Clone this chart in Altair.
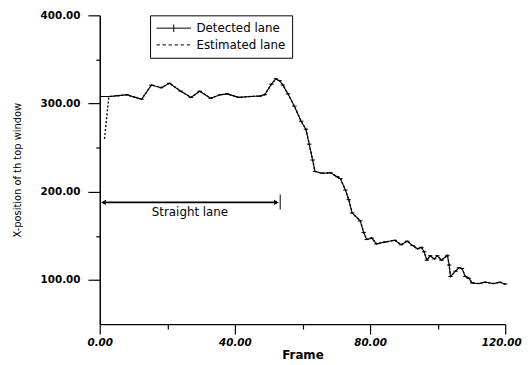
import altair as alt
import pandas as pd

# ---- data ----
det_frame = [0.7, 3, 5.5, 8, 10.5, 12.4, 15.3, 18.2, 20.6, 24, 27, 29.6, 32.8, 35.7,
             37.7, 41.1, 44.5, 47.4, 48.8, 50.8, 52.1, 53.2, 54.2, 55.7, 57.6, 59.6,
             61, 62, 63, 63.7, 65.9, 68.3, 70.3, 71.2, 72.7, 73.7, 74.7, 77.1, 78.1,
             79, 80.5, 81.9, 84.4, 87.3, 89.2, 91, 92.6, 94.1, 95.2, 96, 96.8, 97.8,
             99, 99.9, 101.1, 102.9, 103.4, 103.8, 105.3, 106.3, 107.2, 108.2, 109.2,
             110.2, 112.1, 114, 116.5, 118.4, 120]
det_value = [308, 308, 309, 310, 307, 305, 321, 318, 323, 314, 307, 314, 306, 310,
             311, 307, 308, 308.5, 310, 322, 328, 326, 321, 311, 297, 280,
             271, 254, 236, 223, 221, 221.5, 217, 215, 202, 191, 176, 167, 154,
             146, 147.5, 141, 143, 145, 140, 144, 139, 135.5, 137, 132, 122.5, 127.5,
             124, 127.5, 122.5, 128, 117, 104, 110, 114, 113, 104, 102,
             96.7, 96, 97.5, 96, 97.5, 95.5]
est_head_frame = [1.4, 2.7]
est_head_value = [260, 308]

series_names = ["Detected lane", "Estimated lane"]
arrow_frames = [1.1, 52.3]
arrow_value = [188, 188]
bar_frame = [53.4]
bar_low = [180]
bar_high = [197]
note_frame = [26.7]
note_value = [177]
note_text = ["Straight lane"]

x_ticks = [0, 20, 40, 60, 80, 100, 120]
y_ticks = [100, 150, 200, 250, 300, 350, 400]

# ---- tables ----
det_df = pd.DataFrame({"frame": det_frame, "value": det_value,
                       "series": series_names[0]})
est_df = pd.DataFrame({
    "frame": est_head_frame + [f for f in det_frame if f > 3],
    "value": est_head_value + [v for f, v in zip(det_frame, det_value) if f > 3],
})
arrow_df = pd.DataFrame({"frame": [arrow_frames[0]], "frame2": [arrow_frames[1]],
                         "value": [arrow_value[0]]})
arrow_l = pd.DataFrame({"frame": [arrow_frames[0]], "value": [arrow_value[0]]})
arrow_r = pd.DataFrame({"frame": [arrow_frames[1]], "value": [arrow_value[1]]})
bar_df = pd.DataFrame({"frame": bar_frame, "value": bar_low, "value2": bar_high})
note_df = pd.DataFrame({"frame": note_frame, "value": note_value, "text": note_text})

FONT = "DejaVu Sans"

x_axis = alt.Axis(
    values=x_ticks,
    labelExpr="datum.value % 40 === 0 ? format(datum.value, '.2f') : ''",
    tickSize={"condition": {"test": "datum.value % 40 === 0", "value": 10}, "value": 5},
    labelOffset={"condition": {"test": "datum.value === 120", "value": -4}, "value": 0},
    labelFont=FONT, labelFontSize=10.5, labelFontWeight="bold", labelFontStyle="italic",
    labelPadding=4, labelFlush=False, labelOverlap=False,
    titleFont=FONT, titleFontSize=12, titleFontWeight="bold", titlePadding=1,
    domainWidth=1.5, tickWidth=1.2,
)
y_axis = alt.Axis(
    values=y_ticks,
    labelExpr="datum.value % 100 === 0 ? format(datum.value, '.2f') : ''",
    tickSize={"condition": {"test": "datum.value % 100 === 0", "value": 12}, "value": 4},
    labelFont=FONT, labelFontSize=10.5, labelFontWeight="bold",
    labelPadding=8, labelFlush=False, labelOverlap=False,
    titleFont=FONT, titleFontSize=10, titleFontWeight="normal", titlePadding=18,
    domainWidth=1.5, tickWidth=1.2,
)

xs = alt.Scale(domain=[0, 120], nice=False, zero=False)
ys = alt.Scale(domain=[50, 400], nice=False, zero=False)


def X(field="frame"):
    return alt.X(f"{field}:Q", scale=xs, axis=x_axis, title="Frame")


def Y(field="value"):
    return alt.Y(f"{field}:Q", scale=ys, axis=y_axis, title="X-position of th top window")


det_line = alt.Chart(det_df).mark_line(color="black", strokeWidth=1.1).encode(x=X(), y=Y())
est_line = alt.Chart(est_df).mark_line(color="black", strokeWidth=1.4,
                                       strokeDash=[2, 2]).encode(x=X(), y=Y())

plus_path = "M-1,0H1M0,-0.22V0.22"
dot_path = "M-1,0H-0.8M-0.65,0H-0.45M-0.3,0H-0.1M0.05,0H0.25M0.4,0H0.6M0.75,0H0.95"

det_points = alt.Chart(det_df).mark_point(
    filled=False, size=20, strokeWidth=1, color="black", opacity=1
).encode(
    x=X(), y=Y(),
    shape=alt.Shape(
        "series:N",
        scale=alt.Scale(domain=series_names, range=[plus_path, dot_path]),
        legend=alt.Legend(
            title=None, orient="none", legendX=51, legendY=0, direction="vertical",
            strokeColor="black", fillColor="white", padding=6, cornerRadius=0,
            clipHeight=14, rowPadding=3, symbolSize=1225, symbolStrokeWidth=1,
            symbolStrokeColor="black", symbolOffset=0, labelOffset=5,
            labelFont=FONT, labelFontSize=12, labelColor="black",
        ),
    ),
)

arrow_line = alt.Chart(arrow_df).mark_rule(color="black", strokeWidth=2).encode(
    x=X(), x2="frame2:Q", y=Y()
)
arrow_left = alt.Chart(arrow_l).mark_point(
    shape="triangle-left", filled=True, size=30, color="black", opacity=1
).encode(x=X(), y=Y())
arrow_right = alt.Chart(arrow_r).mark_point(
    shape="triangle-right", filled=True, size=30, color="black", opacity=1
).encode(x=X(), y=Y())
bar = alt.Chart(bar_df).mark_rule(color="black", strokeWidth=1).encode(
    x=X(), y=Y(), y2="value2:Q"
)
note = alt.Chart(note_df).mark_text(
    font=FONT, fontSize=12, align="center", baseline="middle", color="black"
).encode(x=X(), y=Y(), text="text:N")

chart = alt.layer(
    det_line, est_line, det_points, arrow_line, arrow_left, arrow_right, bar, note
).properties(
    width=411, height=313,
    autosize=alt.AutoSizeParams(type="none"),
    padding={"left": 93, "top": 5, "right": 17, "bottom": 40},
).configure_view(strokeWidth=0).configure_axis(
    domainColor="black", tickColor="black", labelColor="black", titleColor="black",
    grid=False,
)

chart.save("out.html", embed_options={"renderer": "svg", "actions": False})
